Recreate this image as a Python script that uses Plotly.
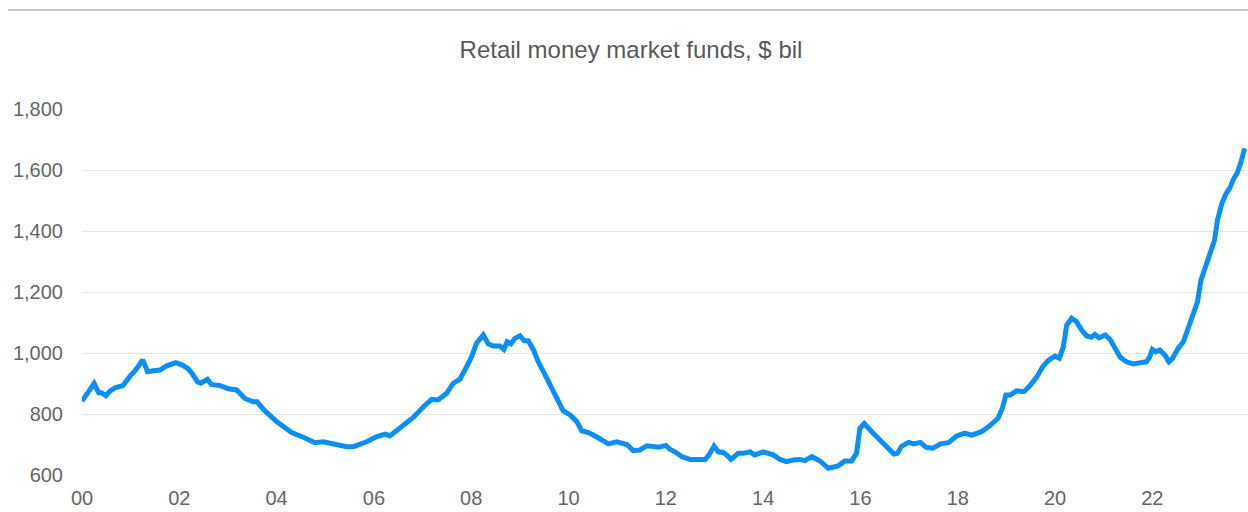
import plotly.graph_objects as go

# Retail money market fund assets, $ billions
dates = [
    "2000-01-01", "2000-04-01", "2000-05-05", "2000-05-27", "2000-06-28", "2000-07-31",
    "2000-09-05", "2000-11-03", "2000-12-28", "2001-02-03", "2001-04-01", "2001-05-08",
    "2001-06-20", "2001-08-08", "2001-09-27", "2001-12-05", "2002-01-19", "2002-03-04",
    "2002-04-10", "2002-05-16", "2002-06-10", "2002-07-31", "2002-08-29", "2002-11-03",
    "2003-01-04", "2003-03-07", "2003-05-08", "2003-07-09", "2003-08-08", "2003-09-24",
    "2004-01-01", "2004-04-23", "2004-07-19", "2004-10-15", "2004-12-17", "2005-03-29",
    "2005-06-10", "2005-07-31", "2005-11-07", "2006-01-23", "2006-03-26", "2006-05-01",
    "2006-07-16", "2006-09-02", "2006-10-23", "2007-01-08", "2007-03-10", "2007-04-27",
    "2007-07-01", "2007-08-18", "2007-10-08", "2007-11-28", "2008-01-04", "2008-02-10",
    "2008-04-01", "2008-05-08", "2008-06-13", "2008-08-04", "2008-09-02", "2008-09-27",
    "2008-10-26", "2008-11-24", "2009-01-01", "2009-02-02", "2009-03-04", "2009-04-13",
    "2009-05-19", "2009-07-09", "2009-09-02", "2009-10-23", "2009-11-21", "2010-01-12",
    "2010-03-04", "2010-04-10", "2010-05-31", "2010-08-11", "2010-10-27", "2010-12-28",
    "2011-02-03", "2011-03-15", "2011-05-01", "2011-06-21", "2011-08-11", "2011-09-27",
    "2011-11-14", "2012-01-01", "2012-02-03", "2012-03-10", "2012-05-01", "2012-07-01",
    "2012-09-02", "2012-10-23", "2012-11-21", "2012-12-28", "2013-01-30", "2013-03-07",
    "2013-04-01", "2013-05-05", "2013-06-28", "2013-08-04", "2013-09-24", "2013-10-30",
    "2014-01-01", "2014-03-18", "2014-05-08", "2014-06-25", "2014-08-15", "2014-10-05",
    "2014-11-10", "2015-01-01", "2015-03-04", "2015-03-29", "2015-05-05", "2015-07-19",
    "2015-09-05", "2015-10-27", "2015-12-03", "2015-12-28", "2016-01-30", "2016-03-26",
    "2016-05-27", "2016-07-16", "2016-09-09", "2016-10-05", "2016-11-07", "2016-12-28",
    "2017-02-03", "2017-03-26", "2017-05-08", "2017-06-28", "2017-08-26", "2017-10-23",
    "2017-12-24", "2018-02-23", "2018-04-16", "2018-06-28", "2018-08-29", "2018-10-30",
    "2018-12-02", "2018-12-28", "2019-01-30", "2019-03-18", "2019-05-12", "2019-06-28",
    "2019-08-15", "2019-10-01", "2019-11-10", "2020-01-01", "2020-02-03", "2020-03-04",
    "2020-03-29", "2020-05-05", "2020-06-10", "2020-07-19", "2020-08-26", "2020-10-01",
    "2020-10-26", "2020-11-28", "2021-01-12", "2021-02-17", "2021-03-26", "2021-05-05",
    "2021-06-21", "2021-08-11", "2021-10-12", "2021-11-17", "2021-12-13", "2022-01-01",
    "2022-01-27", "2022-02-25", "2022-04-05", "2022-05-05", "2022-06-03", "2022-07-13",
    "2022-08-22", "2022-09-27", "2022-11-03", "2022-12-06", "2023-01-01", "2023-02-03",
    "2023-03-11", "2023-04-13", "2023-05-05", "2023-06-07", "2023-07-13", "2023-08-08",
    "2023-09-02", "2023-10-01", "2023-10-27", "2023-11-25",
]
assets = [
    842, 900, 870, 870, 860, 876,
    886, 893, 925, 942, 977, 939,
    942, 944, 958, 968, 961, 950,
    931, 906, 901, 914, 897, 893,
    883, 879, 851, 840, 840, 815,
    775, 739, 724, 706, 709, 700,
    693, 693, 709, 726, 734, 728,
    756, 775, 789, 824, 848, 846,
    868, 900, 914, 955, 988, 1032,
    1059, 1030, 1023, 1023, 1012, 1037,
    1030, 1048, 1056, 1040, 1040, 1010,
    971, 928, 881, 830, 811, 797,
    775, 745, 739, 722, 702, 709,
    704, 700, 680, 682, 696, 695,
    691, 697, 684, 676, 660, 651,
    651, 651, 666, 695, 676, 674,
    666, 651, 671, 671, 676, 666,
    676, 666, 651, 644, 649, 651,
    647, 660, 646, 638, 622, 630,
    646, 646, 671, 753, 769, 742,
    715, 698, 669, 671, 695, 707,
    702, 707, 691, 688, 702, 706,
    728, 737, 731, 742, 761, 786,
    819, 862, 862, 876, 873, 893,
    920, 955, 975, 990, 983, 1021,
    1092, 1114, 1103, 1075, 1056, 1052,
    1061, 1050, 1059, 1045, 1015, 986,
    971, 964, 969, 971, 988, 1012,
    1004, 1010, 993, 971, 983, 1015,
    1037, 1081, 1130, 1168, 1239, 1283,
    1332, 1370, 1436, 1491, 1526, 1543,
    1570, 1591, 1624, 1671,
]

y_ticks = [600, 800, 1000, 1200, 1400, 1600, 1800]

W, H = 1248, 512
ML, MR, MT, MB = 82, 0, 109, 37
plot_w = W - ML - MR
plot_h = H - MT - MB

fig = go.Figure(
    go.Scatter(
        x=dates,
        y=assets,
        mode="lines",
        line=dict(color="#0a8ff5", width=5),
        hoverinfo="x+y",
    )
)

fig.update_layout(
    width=W,
    height=H,
    margin=dict(l=ML, r=MR, t=MT, b=MB, pad=0),
    paper_bgcolor="white",
    plot_bgcolor="white",
    showlegend=False,
    font=dict(family="Liberation Sans, Arial, sans-serif", color="#666666"),
    title=dict(
        text="Retail money market funds, $ bil",
        font=dict(size=24, color="#595959"),
        x=631 / W,
        xanchor="center",
        xref="container",
        y=1 - 50 / H,
        yanchor="middle",
        yref="container",
    ),
    xaxis=dict(
        type="date",
        range=["2000-01-01", "2023-12-20"],
        dtick="M24",
        tick0="2000-01-01",
        tickformat="%y",
        showgrid=False,
        zeroline=False,
        showline=False,
        ticks="",
        ticklabelstandoff=9,
        tickfont=dict(size=20, color="#666666"),
    ),
    yaxis=dict(
        range=[600, 1800],
        tickvals=y_ticks,
        tickformat=",d",
        showgrid=True,
        gridcolor="#e6e6e6",
        gridwidth=1,
        zeroline=False,
        showline=False,
        ticks="",
        ticklabelstandoff=18,
        tickfont=dict(size=20, color="#666666"),
    ),
    shapes=[
        dict(
            type="line",
            xref="paper",
            yref="paper",
            x0=(8 - ML) / plot_w,
            x1=1.0,
            y0=(H - MB - 10) / plot_h,
            y1=(H - MB - 10) / plot_h,
            line=dict(color="#c8c8c8", width=2),
        )
    ],
)

fig.write_html("out.html")
